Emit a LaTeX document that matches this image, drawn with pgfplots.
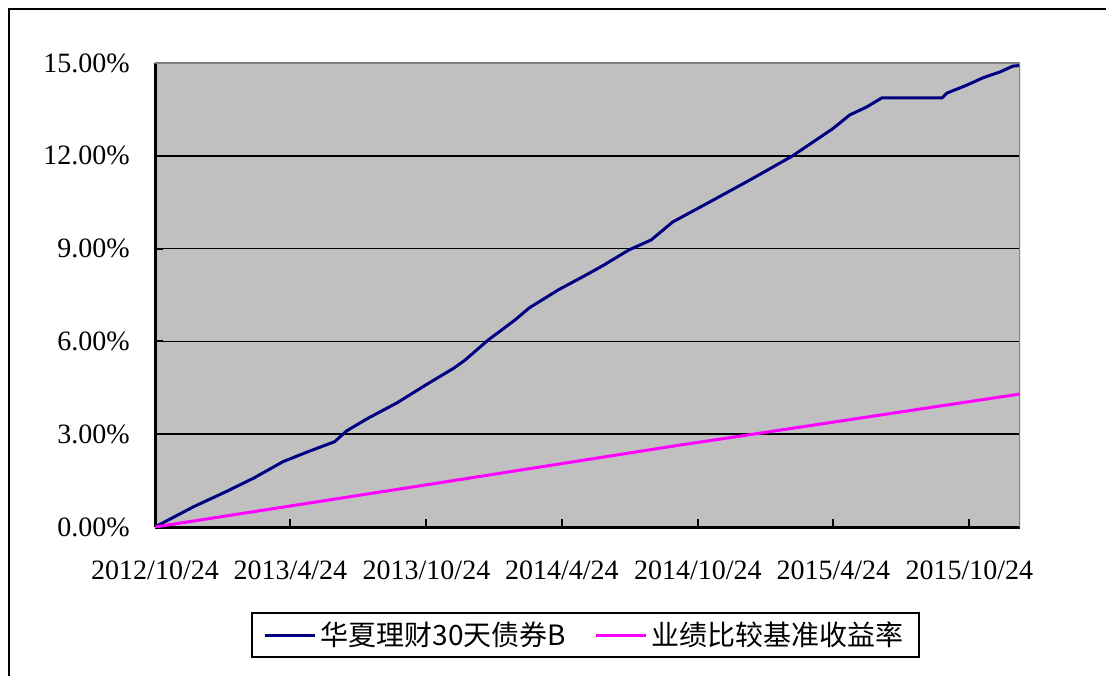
\documentclass[border=0pt]{standalone}
\usepackage{fontspec}
\setmainfont{Liberation Serif}
\newfontfamily\cjk{Noto Sans CJK SC}
\usepackage{pgfplots}
\pgfplotsset{compat=1.18}
\definecolor{bgGray}{HTML}{C0C0C0}
\definecolor{navyline}{HTML}{000080}
\definecolor{magline}{HTML}{FF00FF}
\definecolor{borderGray}{HTML}{808080}
\begin{document}
\begin{tikzpicture}[x=1pt,y=1pt]
\useasboundingbox (0,0) rectangle (553,337.5);
\draw[line width=1pt] (4.5,-2) -- (4.5,333) -- (555,333);
\begin{axis}[
  at={(77.5pt,74pt)}, anchor=south west,
  width=432.5pt, height=232pt, scale only axis,
  xmin=0, xmax=1163, ymin=0, ymax=15,
  axis x line=bottom, axis y line=left,
  axis line style={line width=1.5pt, black, -},
  tick align=inside, major tick length=4pt,
  tick style={line width=1pt, black},
  xtick={0,182,365,547,730,912,1095},
  xticklabels={2012/10/24,2013/4/24,2013/10/24,2014/4/24,2014/10/24,2015/4/24,2015/10/24},
  ytick={0,3,...,15},
  /pgf/number format/assume math mode=true,
  yticklabel={\pgfmathprintnumber[fixed,fixed zerofill,precision=2]{\tick}\%},
  ticklabel style={font=\fontsize{14}{16}\selectfont},
  yticklabel style={anchor=east, inner sep=0pt, xshift=-12.5pt},
  xticklabel style={anchor=north, inner sep=0pt, yshift=-16.5pt},
  axis background/.style={fill=bgGray},
  extra y ticks={3,6,9,12}, extra y tick labels={},
  extra y tick style={grid=major, major tick length=0pt},
  major grid style={black, line width=0.75pt},
  legend style={at={(0.4977,-0.2328)}, anchor=center, draw=black, line width=1pt,
    fill=white, legend columns=2, font=\cjk\fontsize{14}{16}\selectfont,
    inner xsep=6pt, inner ysep=2.5pt,
    /tikz/every even column/.style={column sep=12pt}},
  legend image code/.code={\draw[#1] (0pt,0pt) -- (25pt,0pt);},
]
\addplot[navyline, line width=1.5pt] coordinates {
(0,0) (51.9,0.656) (95.4,1.141) (133,1.584) (172,2.111) (205.7,2.434)
(241.5,2.758) (258,3.113) (287,3.524) (325,4.009) (364,4.591) (402,5.140)
(417,5.399) (448,6.045) (484,6.692) (503,7.080) (542,7.662) (579.5,8.147)
(603.6,8.470) (637,8.955) (667,9.278) (696,9.86) (746,10.51) (800,11.22)
(856,11.98) (911.5,12.88) (934,13.32) (957,13.58) (977,13.87) (1058,13.87)
(1065,14.03) (1092,14.29) (1113,14.52) (1136,14.71) (1153.5,14.90) (1163,14.92)
};
\addlegendentry{华夏理财30天债券B}
\addplot[magline, line width=1.5pt] coordinates {
(0,0) (364,1.36) (706,2.65) (804,3.0) (1163,4.30)
};
\addlegendentry{业绩比较基准收益率}
\draw[borderGray, line width=0.6pt] (rel axis cs:0,1) -- (rel axis cs:1,1) -- (rel axis cs:1,0);
\end{axis}
\end{tikzpicture}
\end{document}
